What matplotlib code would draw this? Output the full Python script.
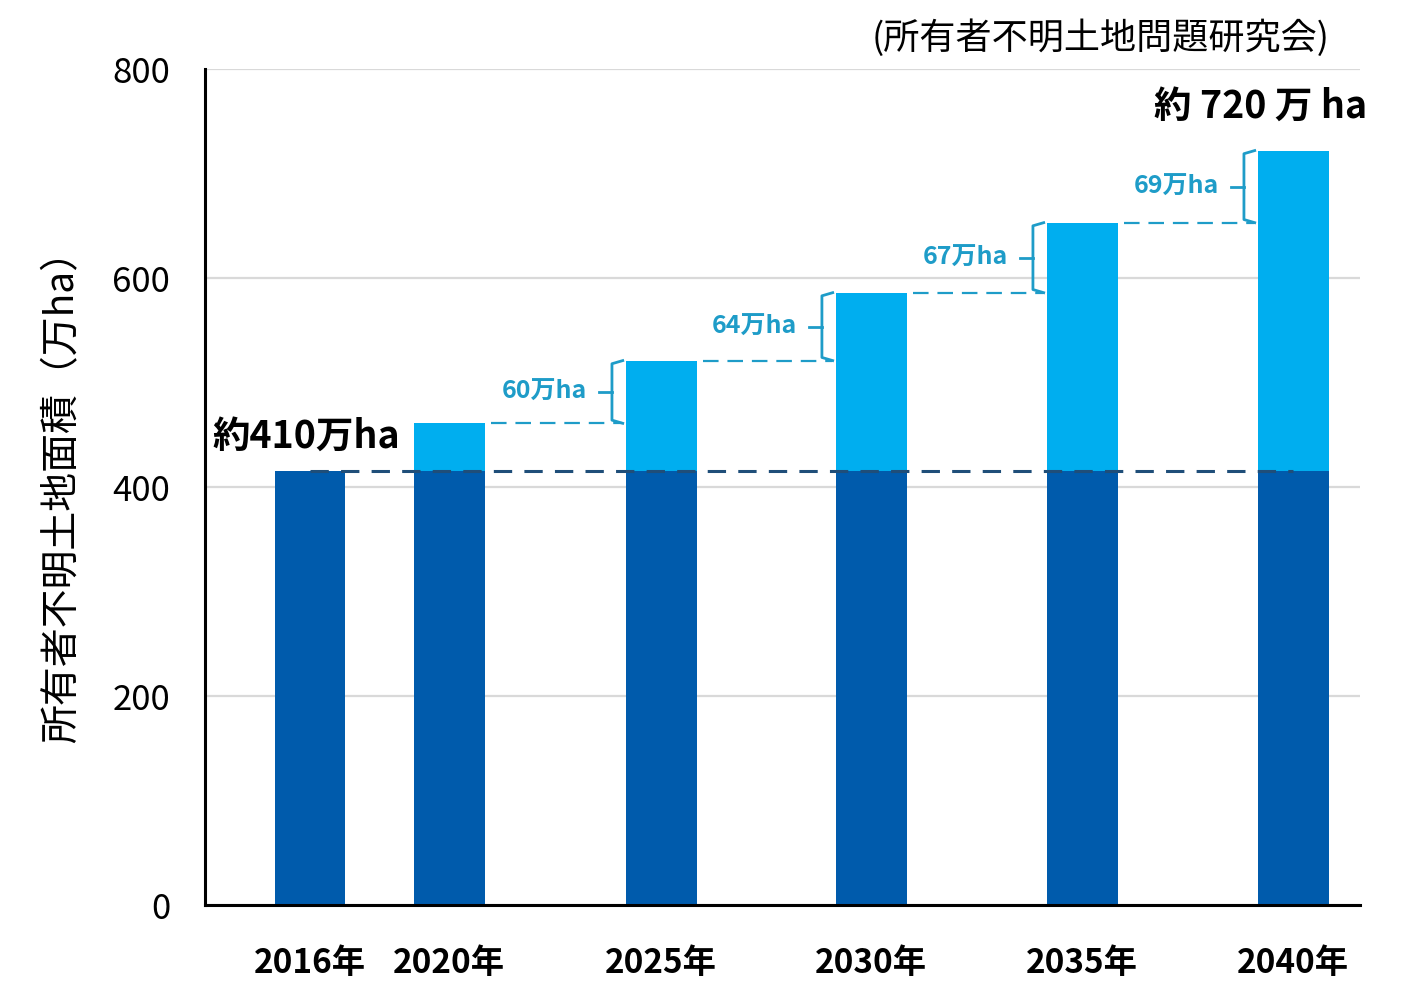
import matplotlib.pyplot as plt
import numpy as np

plt.rcParams['font.family'] = ['Noto Sans CJK JP', 'DejaVu Sans']

years = ["2016年", "2020年", "2025年", "2030年", "2035年", "2040年"]
base = [415, 415, 415, 415, 415, 415]          # 2016 level (約410万ha)
total = [415, 461, 521, 586, 653, 722]         # stacked total
inc_labels = ["", "", "60万ha", "64万ha", "67万ha", "69万ha"]

# uneven spacing: 2016 -> 2020 is closer
xpos = np.array([0, 0.66, 1.665, 2.66, 3.66, 4.66])
w = 0.336

dark = '#005BAC'
light = '#00AEEF'
teal = '#1E9CC8'

fig = plt.figure(figsize=(14.07, 10.01), dpi=100)
ax = fig.add_axes([0.1457, 0.0959, 0.8209, 0.8351])

extra = np.array(total) - np.array(base)
ax.bar(xpos, base, w, color=dark, zorder=2)
ax.bar(xpos, extra, w, bottom=base, color=light, zorder=2)

# base level dashed line
ax.plot([xpos[0], xpos[-1]], [base[0], base[0]], color='#1F4E79', lw=2.2,
        dashes=(6, 4), zorder=3)

# increments: dashed level line + bracket + label
for i in range(2, len(years)):
    prev = total[i - 1]
    cur = total[i]
    L = xpos[i] - w / 2
    xv = L - 0.066
    ax.plot([xpos[i - 1] + w / 2 + 0.03, L - 0.02], [prev, prev], color=teal,
            lw=1.6, dashes=(7, 4), zorder=3)
    ax.plot([L - 0.015, xv, xv, L - 0.015], [cur, cur - 3, prev + 3, prev],
            color=teal, lw=2, solid_joinstyle='round', zorder=3)
    mid = (prev + cur) / 2
    ax.plot([xv, xv - 0.06], [mid, mid], color=teal, lw=2, zorder=3)
    ax.text(L - 0.185, mid, inc_labels[i], color=teal, fontsize=18,
            fontweight='bold', ha='right', va='center')

ax.text(-0.46, 449, "約410万ha", fontsize=27, fontweight='bold',
        ha='left', va='center', zorder=4)
ax.text(5.01, 764, "約 720 万 ha", fontsize=27, fontweight='bold',
        ha='right', va='center', clip_on=False)

ax.set_xlim(-0.4976, 4.976)
ax.set_ylim(0, 800)
ax.set_yticks([0, 200, 400, 600, 800])
ax.set_xticks(xpos)
ax.set_xticklabels(years, fontsize=24, fontweight='bold')
ax.tick_params(axis='x', length=0, pad=30)
ax.tick_params(axis='y', length=0, pad=25, labelsize=25)
ax.grid(axis='y', color='#d9d9d9', lw=1.6, zorder=0)
ax.set_axisbelow(True)

for s in ['top', 'right']:
    ax.spines[s].set_visible(False)
ax.spines['left'].set_linewidth(2.2)
ax.spines['bottom'].set_linewidth(2.2)

ax.set_ylabel("所有者不明土地面積（万ha）", fontsize=28)
ax.yaxis.set_label_coords(-0.106, 0.5)

fig.text(0.945, 0.962, "(所有者不明土地問題研究会)", fontsize=26,
         ha='right', va='center')

fig.savefig('out.png', dpi=100)
